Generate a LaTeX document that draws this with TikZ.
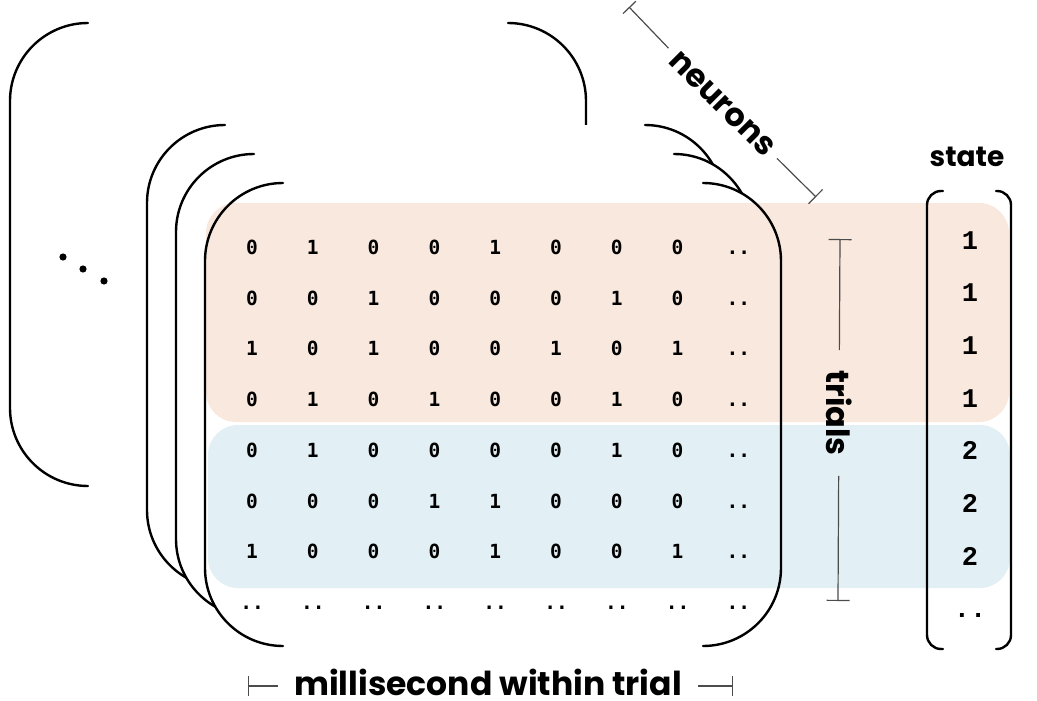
\documentclass[tikz,border=0pt]{standalone}
\usepackage{fontspec}
\newfontfamily\bitfont{DejaVu Sans Mono}
\newfontfamily\statefont{Liberation Mono}
\newfontfamily\lblfont{Poppins}
\usepackage{tikz}
\usetikzlibrary{arrows.meta}
\definecolor{bandorange}{RGB}{249,232,221}
\definecolor{bandblue}{RGB}{226,240,245}
\tikzset{paren/.style={line width=2.4pt, line cap=round}}
\tikzset{bar/.style={draw=black!70, line width=1.2pt}}
% one stacked spike matrix: white body plus its two parentheses
\newcommand{\spikemat}[2]{
	\begin{scope}[shift={(#1,#2)}]
		\fill[white, rounded corners=78pt] (0,0) rectangle (576,463);
		\draw[paren, rounded corners=78pt] (78,0) -- (0,0) -- (0,463) -- (78,463);
		\draw[paren, rounded corners=78pt] (498,0) -- (576,0) -- (576,463) -- (498,463);
	\end{scope}
}

\begin{document}
\begin{tikzpicture}[x=1pt,y=-1pt,
	bit/.style={font=\bitfont\bfseries\fontsize{19.5}{20}\selectfont, anchor=base, inner sep=0pt},
	st/.style={font=\statefont\bfseries\fontsize{27}{28}\selectfont, anchor=base, inner sep=0pt},
	lbl/.style={font=\lblfont\bfseries\fontsize{32}{34}\selectfont, inner ysep=0pt}]
\useasboundingbox (0,0) rectangle (1037,701);
% matrices, back to front
\spikemat{10}{23}
\spikemat{147}{125}
\spikemat{176}{154}
\begin{scope}[shift={(205,183)}]
	\fill[white, rounded corners=78pt] (0,0) rectangle (576,463);
\end{scope}
\foreach \p in {(63,257),(83,269),(104,281)} {
	\fill \p circle (3.6pt);
}
% state bands
\fill[bandorange, rounded corners=30pt] (206,203) rectangle (1009,422);
\fill[bandblue, rounded corners=30pt] (208,425) rectangle (1010,588);
\begin{scope}[shift={(205,183)}]
	\draw[paren, rounded corners=78pt] (78,0) -- (0,0) -- (0,463) -- (78,463);
	\draw[paren, rounded corners=78pt] (498,0) -- (576,0) -- (576,463) -- (498,463);
\end{scope}
% spikes
\foreach \row [count=\r] in {{0,1,0,0,1,0,0,0,..},{0,0,1,0,0,0,1,0,..},{1,0,1,0,0,1,0,1,..},{0,1,0,1,0,0,1,0,..},
	{0,1,0,0,0,0,1,0,..},{0,0,0,1,1,0,0,0,..},{1,0,0,0,1,0,0,1,..},{..,..,..,..,..,..,..,..,..}} {
	\foreach \v [count=\c] in \row {
		\node[bit] (b\r-\c) at ({252+(\c-1)*60.8},{254.5+(\r-1)*50.7}) {\v};
	}
}
% state vector
\foreach \s [count=\r] in {1,1,1,1,2,2,2,..} {
	\node[st] (s\r) at (970,{249+(\r-1)*52.7}) {\s};
}
\draw[paren, rounded corners=14pt] (943,191) -- (927,191) -- (927,649) -- (943,649);
\draw[paren, rounded corners=14pt] (996,191) -- (1011,191) -- (1011,649) -- (996,649);
\node[lbl, font=\lblfont\bfseries\fontsize{28}{30}\selectfont] (statelbl) at (967,157) {state};
% axis labels
\coordinate (ntop) at (629,7);
\coordinate (nbot) at (816,197);
\node[lbl, rotate=-45, inner xsep=9pt] (neuronslbl) at (722,104) {neurons};
\draw[bar, {Bar[width=18pt]}-] (ntop) -- (neuronslbl);
\draw[bar, -{Bar[width=20pt]}] (neuronslbl) -- (nbot);
\coordinate (ttop) at (840,239);
\coordinate (tbot) at (838,601);
\node[lbl, rotate=-90, inner xsep=20pt] (trialslbl) at (839,413) {trials};
\draw[bar, {Bar[width=23pt]}-] (ttop) -- (trialslbl);
\draw[bar, -{Bar[width=23pt]}] (trialslbl) -- (tbot);
\coordinate (mleft) at (248,686);
\coordinate (mright) at (733,686);
\node[lbl, font=\lblfont\bfseries\fontsize{33}{35}\selectfont, inner xsep=16pt] (mslbl) at (488,682) {millisecond within trial};
\draw[bar, {Bar[width=20pt]}-] (mleft) -- (mleft -| mslbl.west);
\draw[bar, -{Bar[width=20pt]}] (mright -| mslbl.east) -- (mright);
\end{tikzpicture}
\end{document}
